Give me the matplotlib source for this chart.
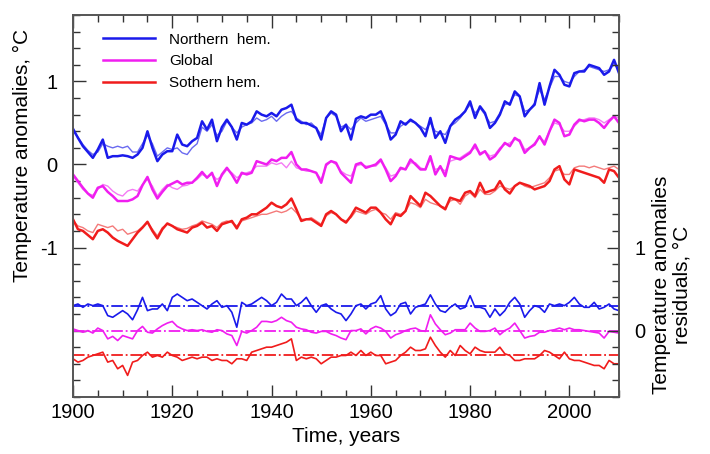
import numpy as np
import matplotlib
matplotlib.use("Agg")
import matplotlib.pyplot as plt
from matplotlib.ticker import FixedLocator, FixedFormatter, MultipleLocator

plt.rcParams['font.family'] = ['Liberation Sans', 'DejaVu Sans']

years = np.arange(1900, 2011)

# Northern hemisphere: observed and model fit
north = [0.43, 0.32, 0.22, 0.15, 0.08, 0.18, 0.30, 0.08, 0.10, 0.10,
         0.11, 0.10, 0.08, 0.12, 0.20, 0.40, 0.20, 0.04, 0.12, 0.16,
         0.16, 0.36, 0.24, 0.22, 0.28, 0.32, 0.52, 0.42, 0.54, 0.28,
         0.45, 0.54, 0.45, 0.30, 0.50, 0.48, 0.52, 0.64, 0.60, 0.58,
         0.62, 0.58, 0.66, 0.68, 0.72, 0.54, 0.50, 0.50, 0.47, 0.44,
         0.30, 0.56, 0.64, 0.60, 0.40, 0.48, 0.30, 0.55, 0.58, 0.56,
         0.60, 0.60, 0.64, 0.50, 0.30, 0.36, 0.52, 0.48, 0.54, 0.50,
         0.44, 0.34, 0.56, 0.32, 0.40, 0.26, 0.46, 0.54, 0.58, 0.64,
         0.76, 0.56, 0.70, 0.62, 0.44, 0.50, 0.60, 0.76, 0.72, 0.88,
         0.82, 0.58, 0.66, 0.72, 0.98, 0.72, 0.94, 1.14, 1.08, 0.96,
         0.94, 1.10, 1.12, 1.12, 1.20, 1.18, 1.16, 1.08, 1.12, 1.26, 1.10]
north_fit = [0.40, 0.33, 0.24, 0.17, 0.12, 0.15, 0.25, 0.22, 0.20, 0.22,
             0.20, 0.22, 0.15, 0.15, 0.25, 0.35, 0.25, 0.10, 0.15, 0.20,
             0.18, 0.20, 0.14, 0.12, 0.20, 0.25, 0.45, 0.40, 0.48, 0.35,
             0.40, 0.52, 0.45, 0.38, 0.45, 0.48, 0.50, 0.56, 0.52, 0.54,
             0.58, 0.52, 0.58, 0.62, 0.64, 0.56, 0.52, 0.48, 0.50, 0.44,
             0.36, 0.56, 0.62, 0.58, 0.45, 0.48, 0.42, 0.50, 0.56, 0.52,
             0.54, 0.56, 0.58, 0.48, 0.38, 0.38, 0.46, 0.50, 0.52, 0.50,
             0.46, 0.42, 0.50, 0.40, 0.38, 0.36, 0.46, 0.50, 0.56, 0.64,
             0.72, 0.62, 0.68, 0.60, 0.50, 0.52, 0.62, 0.72, 0.74, 0.84,
             0.82, 0.64, 0.66, 0.74, 0.90, 0.78, 0.92, 1.06, 1.06, 1.00,
             0.98, 1.06, 1.12, 1.14, 1.18, 1.16, 1.14, 1.12, 1.14, 1.20, 1.16]

# Global
glob = [-0.12, -0.20, -0.28, -0.35, -0.40, -0.28, -0.26, -0.33, -0.38, -0.44,
        -0.44, -0.44, -0.42, -0.38, -0.25, -0.15, -0.30, -0.41, -0.33, -0.26,
        -0.23, -0.20, -0.24, -0.22, -0.22, -0.16, -0.09, -0.16, -0.10, -0.26,
        -0.12, -0.04, -0.12, -0.22, -0.10, -0.12, -0.10, 0.04, 0.02, 0.00,
        0.06, 0.04, 0.08, 0.08, 0.15, 0.00, -0.06, -0.06, -0.08, -0.10,
        -0.22, 0.00, 0.04, 0.02, -0.10, -0.16, -0.22, 0.00, 0.02, -0.04,
        -0.02, 0.00, 0.06, -0.06, -0.20, -0.14, -0.04, -0.06, 0.06, 0.00,
        -0.06, -0.06, 0.10, -0.12, -0.02, -0.14, 0.10, 0.08, 0.06, 0.10,
        0.14, 0.24, 0.12, 0.16, 0.06, 0.10, 0.18, 0.26, 0.22, 0.32,
        0.28, 0.14, 0.20, 0.24, 0.34, 0.24, 0.40, 0.54, 0.50, 0.34,
        0.36, 0.48, 0.54, 0.52, 0.54, 0.54, 0.50, 0.44, 0.52, 0.58, 0.50]
glob_fit = [-0.14, -0.22, -0.30, -0.35, -0.37, -0.30, -0.24, -0.26, -0.32, -0.36,
            -0.38, -0.32, -0.30, -0.32, -0.24, -0.18, -0.26, -0.38, -0.30, -0.24,
            -0.28, -0.30, -0.26, -0.25, -0.22, -0.18, -0.12, -0.15, -0.12, -0.18,
            -0.14, -0.06, -0.10, -0.16, -0.12, -0.10, -0.08, -0.02, -0.02, -0.02,
            0.02, 0.00, 0.02, -0.04, 0.04, -0.04, -0.06, -0.08, -0.08, -0.10,
            -0.18, -0.02, 0.04, 0.00, -0.08, -0.12, -0.14, -0.02, 0.00, -0.02,
            -0.02, -0.02, 0.04, -0.04, -0.14, -0.12, -0.06, -0.06, 0.02, 0.02,
            -0.04, -0.06, 0.06, -0.06, -0.04, -0.08, 0.04, 0.06, 0.08, 0.12,
            0.16, 0.20, 0.14, 0.16, 0.10, 0.12, 0.20, 0.24, 0.26, 0.30,
            0.30, 0.18, 0.20, 0.26, 0.32, 0.28, 0.40, 0.50, 0.48, 0.40,
            0.40, 0.46, 0.52, 0.54, 0.56, 0.56, 0.54, 0.50, 0.54, 0.58, 0.56]

# Southern hemisphere
south = [-0.66, -0.78, -0.80, -0.85, -0.90, -0.80, -0.78, -0.82, -0.88, -0.92,
         -0.95, -0.98, -0.90, -0.82, -0.76, -0.69, -0.80, -0.89, -0.78, -0.71,
         -0.74, -0.78, -0.80, -0.82, -0.76, -0.74, -0.70, -0.76, -0.74, -0.80,
         -0.72, -0.70, -0.68, -0.77, -0.66, -0.64, -0.60, -0.60, -0.56, -0.52,
         -0.46, -0.50, -0.52, -0.48, -0.41, -0.54, -0.68, -0.66, -0.66, -0.70,
         -0.74, -0.60, -0.56, -0.60, -0.66, -0.70, -0.62, -0.52, -0.55, -0.58,
         -0.52, -0.52, -0.58, -0.66, -0.72, -0.60, -0.62, -0.56, -0.38, -0.44,
         -0.50, -0.34, -0.38, -0.44, -0.50, -0.54, -0.40, -0.42, -0.44, -0.34,
         -0.32, -0.38, -0.22, -0.34, -0.32, -0.30, -0.20, -0.30, -0.35, -0.26,
         -0.22, -0.24, -0.26, -0.30, -0.28, -0.26, -0.20, -0.06, -0.02, -0.18,
         -0.24, -0.06, -0.08, -0.10, -0.12, -0.14, -0.16, -0.22, -0.06, -0.08, -0.16]
south_fit = [-0.68, -0.74, -0.76, -0.80, -0.82, -0.72, -0.74, -0.76, -0.74, -0.80,
             -0.78, -0.84, -0.82, -0.80, -0.75, -0.70, -0.78, -0.86, -0.76, -0.72,
             -0.74, -0.76, -0.78, -0.77, -0.74, -0.72, -0.68, -0.70, -0.72, -0.76,
             -0.70, -0.68, -0.70, -0.74, -0.68, -0.66, -0.64, -0.62, -0.60, -0.60,
             -0.58, -0.56, -0.58, -0.56, -0.52, -0.58, -0.66, -0.66, -0.64, -0.68,
             -0.72, -0.62, -0.58, -0.60, -0.66, -0.68, -0.64, -0.56, -0.58, -0.60,
             -0.56, -0.54, -0.58, -0.60, -0.66, -0.58, -0.60, -0.56, -0.46, -0.48,
             -0.52, -0.42, -0.46, -0.48, -0.50, -0.52, -0.44, -0.42, -0.48, -0.38,
             -0.34, -0.40, -0.30, -0.36, -0.36, -0.32, -0.26, -0.28, -0.30, -0.26,
             -0.22, -0.26, -0.28, -0.26, -0.24, -0.22, -0.16, -0.08, -0.06, -0.12,
             -0.12, -0.04, -0.02, -0.02, -0.04, -0.02, -0.04, -0.06, -0.04, -0.02, -0.06]

# residuals (read against their own zero lines)
res_north = [0.00, 0.02, -0.02, 0.02, 0.00, 0.02, 0.00, -0.12, -0.14, -0.10,
             -0.06, -0.10, -0.17, -0.05, 0.10, -0.06, -0.04, -0.04, 0.02, -0.06,
             0.10, 0.14, 0.10, 0.06, 0.08, 0.04, 0.00, -0.04, 0.02, 0.06,
             -0.02, 0.00, -0.08, -0.26, 0.04, 0.00, 0.02, 0.06, 0.10, 0.06,
             0.00, 0.04, 0.14, 0.08, 0.08, 0.00, 0.04, 0.10, 0.00, -0.08,
             0.00, 0.02, -0.04, -0.08, -0.10, -0.18, -0.10, 0.00, 0.02, -0.04,
             0.02, 0.04, 0.12, -0.04, -0.12, -0.08, 0.02, 0.04, -0.10, -0.02,
             0.00, 0.02, 0.13, 0.02, -0.06, -0.08, -0.02, 0.02, -0.04, -0.02,
             0.12, -0.02, -0.02, -0.04, -0.14, -0.04, -0.12, -0.06, 0.04, 0.10,
             0.02, -0.14, -0.06, 0.00, -0.02, -0.08, 0.02, 0.00, 0.02, 0.00,
             0.04, 0.10, 0.02, -0.02, -0.02, 0.04, -0.04, -0.02, 0.02, -0.04, -0.06]
res_glob = [0.02, 0.00, -0.02, 0.00, -0.03, 0.03, 0.00, -0.10, -0.07, -0.12,
            -0.06, -0.08, -0.10, 0.00, 0.05, -0.02, -0.03, 0.02, 0.06, 0.09,
            0.11, 0.05, 0.02, 0.00, 0.01, 0.00, 0.01, -0.01, -0.02, 0.01,
            0.00, -0.04, -0.06, -0.18, -0.01, -0.03, 0.00, 0.04, 0.11, 0.11,
            0.10, 0.12, 0.16, 0.12, 0.10, 0.04, 0.02, 0.01, -0.02, -0.03,
            -0.01, -0.01, -0.04, -0.06, -0.09, -0.11, 0.00, 0.00, 0.02, -0.04,
            0.02, 0.05, 0.03, -0.01, -0.09, -0.05, -0.03, 0.00, 0.02, 0.03,
            0.00, -0.01, 0.19, 0.08, 0.01, -0.05, -0.03, 0.01, 0.01, 0.01,
            0.09, 0.03, -0.01, -0.01, 0.00, 0.03, -0.05, 0.00, 0.03, 0.09,
            0.00, -0.09, -0.07, -0.06, -0.02, -0.02, 0.00, 0.01, 0.03, 0.01,
            0.03, 0.01, 0.01, 0.00, -0.01, -0.02, -0.03, -0.09, -0.01, -0.02, -0.03]
res_south = [-0.04, -0.08, -0.06, -0.02, 0.00, 0.02, 0.04, -0.08, -0.06, -0.16,
             -0.12, -0.24, -0.08, -0.06, 0.00, 0.04, -0.02, 0.00, -0.02, 0.04,
             0.00, -0.02, -0.06, -0.04, -0.02, -0.04, -0.02, -0.02, -0.06, -0.04,
             -0.06, -0.06, -0.10, -0.04, -0.04, -0.06, 0.04, 0.06, 0.08, 0.10,
             0.10, 0.12, 0.14, 0.16, 0.20, -0.06, -0.02, -0.04, -0.02, -0.04,
             -0.10, -0.06, -0.02, -0.02, 0.00, 0.00, 0.04, 0.00, 0.06, 0.00,
             0.04, 0.00, 0.00, -0.10, -0.08, -0.06, 0.00, 0.04, 0.10, 0.06,
             0.06, 0.08, 0.22, 0.12, 0.04, -0.02, 0.06, 0.00, 0.12, 0.06,
             0.02, 0.10, 0.06, 0.04, 0.04, 0.04, 0.10, 0.02, 0.00, -0.06,
             -0.06, -0.04, -0.04, -0.04, 0.00, 0.06, 0.04, 0.00, -0.04, 0.04,
             -0.04, -0.06, -0.06, -0.08, -0.10, -0.12, -0.12, -0.16, -0.06, -0.10, -0.10]

labels = ["Northern  hem.", "Global", "Sothern hem."]
colors = ["#1a1aeb", "#f01ef0", "#f01c1c"]
fit_colors = ["#6a6af0", "#f47af4", "#f47a7a"]

fig = plt.figure(figsize=(7.1, 4.54), dpi=100)
ax = fig.add_axes([73 / 710, 1 - 397 / 454, (619 - 73) / 710, (397 - 15) / 454])

res_zero = -2.0
res_shift = [0.3, 0.0, -0.3]
series = [(north, north_fit, res_north), (glob, glob_fit, res_glob), (south, south_fit, res_south)]

for (obs, fit, res), c, fc, lab, sh in zip(series, colors, fit_colors, labels, res_shift):
    ax.plot(years, fit, color=fc, lw=1.0)
    ax.plot(years, obs, color=c, lw=1.8, label=lab)
    base = res_zero + sh
    ax.plot(years, base + np.array(res), color=c, lw=1.2)
    ax.plot([years[0], years[-1]], [base, base], color=c, lw=1.3, ls='-.')

ax.set_xlim(1900, 2010)
ax.set_ylim(-2.8, 1.8)

ax.xaxis.set_major_locator(MultipleLocator(20))
ax.xaxis.set_minor_locator(MultipleLocator(5))
ax.yaxis.set_major_locator(FixedLocator([-2, -1, 0, 1]))
ax.yaxis.set_major_formatter(FixedFormatter(['', '-1', '0', '1']))
ax.yaxis.set_minor_locator(MultipleLocator(0.2))
ax.tick_params(which='both', direction='in', top=True, right=False, colors='#333333',
               labelcolor='black', labelsize=14.5)
ax.tick_params(axis='y', which='major', length=9, width=1, pad=11)
ax.tick_params(axis='y', which='minor', length=5, width=1)
ax.tick_params(axis='x', which='major', length=9, width=1, pad=4)
ax.tick_params(axis='x', which='minor', length=5, width=1)

ax2 = ax.twinx()
ax2.set_ylim(-2.8 + 2, 1.8 + 2)
ax2.yaxis.set_major_locator(FixedLocator([0, 1, 2, 3]))
ax2.yaxis.set_major_formatter(FixedFormatter(['0', '1', '', '']))
ax2.yaxis.set_minor_locator(MultipleLocator(0.2))
ax2.tick_params(which='both', direction='in', colors='#333333', labelcolor='black', labelsize=14.5)
ax2.tick_params(which='major', length=9, width=1, pad=11)
ax2.tick_params(which='minor', length=5, width=1)

for a in (ax, ax2):
    for s in a.spines.values():
        s.set_color('#555555')
        s.set_linewidth(1.2)

ax.legend(loc='upper left', bbox_to_anchor=(0.03, 0.99), frameon=False, fontsize=11,
          handlelength=3.4, handletextpad=0.9, labelspacing=0.5)

fig.text(22 / 710, 1 - 155 / 454, "Temperature anomalies, °C", rotation=90,
         ha='center', va='center', fontsize=15)
fig.text(346 / 710, 1 - 437 / 454, "Time, years", ha='center', va='center', fontsize=15)
fig.text(672 / 710, 1 - 285 / 454, "Temperature anomalies\nresiduals, °C", rotation=90,
         ha='center', va='center', fontsize=15, multialignment='center', linespacing=1.1)

fig.savefig("out.png", dpi=100)
